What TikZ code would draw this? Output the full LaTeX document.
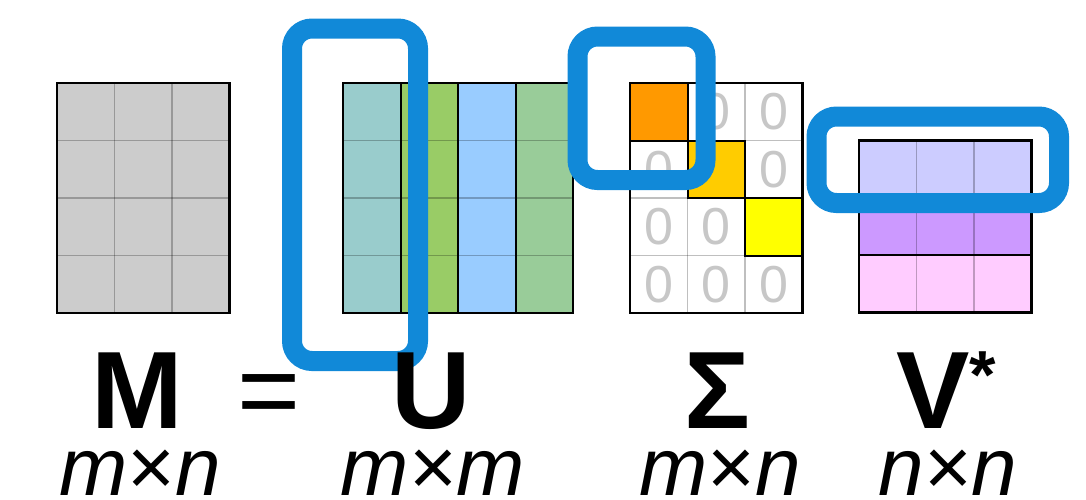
\documentclass[tikz,border=0pt]{standalone}
\usepackage{fontspec}
\setmainfont{Liberation Sans}
\usetikzlibrary{positioning}
\definecolor{hlblue}{RGB}{17,137,216}
\definecolor{mgray}{HTML}{CCCCCC}
\definecolor{ucolA}{HTML}{99CCCC}
\definecolor{ucolB}{HTML}{99CC66}
\definecolor{ucolC}{HTML}{99CCFF}
\definecolor{ucolD}{HTML}{99CC99}
\definecolor{sdiagA}{HTML}{FF9900}
\definecolor{sdiagB}{HTML}{FFCC00}
\definecolor{sdiagC}{HTML}{FFFF00}
\definecolor{vrowA}{HTML}{CCCCFF}
\definecolor{vrowB}{HTML}{CC99FF}
\definecolor{vrowC}{HTML}{FFCCFF}
\tikzset{
  gridline/.style={draw=black, draw opacity=0.25, line width=1.6pt},
  sepline/.style={draw=black, line width=2pt},
  frame/.style={draw=black, line width=2.4pt},
  zero/.style={text=black!22, font=\fontsize{52}{52}\selectfont, inner sep=0pt},
  highlight/.style={draw=hlblue, line width=20pt, rounded corners=20pt},
  bigname/.style={font=\fontsize{110}{110}\selectfont\bfseries, inner sep=0pt, anchor=base},
  dims/.style={font=\fontsize{82}{82}\selectfont, inner sep=0pt, anchor=base},
}

\begin{document}
\begin{tikzpicture}[x=1pt, y=-1pt]
  \useasboundingbox (0,0) rectangle (1086,499);

  % M: plain 4x3 grid
  \fill[mgray] (57,83) rectangle (229.5,313);
  \foreach \c in {1,2}
    \draw[gridline] ({57+57.5*\c},83) -- ++(0,230);
  \foreach \r in {1,2,3}
    \draw[gridline] (57,{83+57.5*\r}) -- ++(172.5,0);
  \draw[frame] (57,83) rectangle (229.5,313);

  % U: one colour per column
  \foreach \c/\col in {0/ucolA,1/ucolB,2/ucolC,3/ucolD}
    \fill[\col] ({343+57.5*\c},83) rectangle ++(57.5,230);
  \foreach \r in {1,2,3}
    \draw[gridline] (343,{83+57.5*\r}) -- ++(230,0);
  \foreach \c in {1,2,3}
    \draw[sepline] ({343+57.5*\c},83) -- ++(0,230);
  \draw[frame] (343,83) rectangle (573,313);

  % Sigma: diagonal entries, zeros elsewhere
  \fill[white] (630,83) rectangle (802.5,313);
  \foreach \c in {1,2}
    \draw[gridline] ({630+57.5*\c},83) -- ++(0,230);
  \foreach \r in {1,2,3}
    \draw[gridline] (630,{83+57.5*\r}) -- ++(172.5,0);
  \foreach \k/\col in {0/sdiagA,1/sdiagB,2/sdiagC}
    \draw[sepline, fill=\col] ({630+57.5*\k},{83+57.5*\k}) rectangle ++(57.5,57.5);
  \foreach \r/\c in {1/2,1/3,2/1,2/3,3/1,3/2,4/1,4/2,4/3}
    \node[zero] (z\r\c) at ({630+57.5*(\c-0.5)},{83+57.5*(\r-0.5)}) {0};
  \draw[frame] (630,83) rectangle (802.5,313);

  % V*: one colour per row
  \foreach \r/\col in {0/vrowA,1/vrowB,2/vrowC}
    \fill[\col] (859,{140.5+57.3*\r}) rectangle ++(172.5,57.3);
  \foreach \c in {1,2}
    \draw[gridline] ({859+57.5*\c},140.5) -- ++(0,172);
  \foreach \r in {1,2}
    \draw[sepline] (859,{140.5+57.3*\r}) -- ++(172.5,0);
  \draw[frame] (859,140.5) rectangle (1031.5,312.5);

  % highlighted column, singular value and row
  \draw[highlight] (292,28.5) rectangle (418,361);
  \draw[highlight] (577.5,36.5) rectangle (705.5,180);
  \draw[highlight] (816.5,116.5) rectangle (1059,203);

  % names and sizes
  \node[bigname] (nameM) at (137,428) {M};
  \node[font=\fontsize{108}{108}\selectfont, inner sep=0pt] (eq) at (269.5,401) {=};
  \node[bigname] (nameU) at (431,428) {U};
  \node[bigname] (nameS) at (717,428) {Σ};
  \node[bigname] (nameV) at (946,428) {V\raisebox{30pt}{\fontsize{68}{68}\selectfont *}};

  \node[dims] (dimM) at (140,495) {\itshape m\upshape ×\itshape n};
  \node[dims] (dimU) at (433,495) {\itshape m\upshape ×\itshape m};
  \node[dims] (dimS) at (720,495) {\itshape m\upshape ×\itshape n};
  \node[dims] (dimV) at (948,495) {\itshape n\upshape ×\itshape n};
\end{tikzpicture}
\end{document}
